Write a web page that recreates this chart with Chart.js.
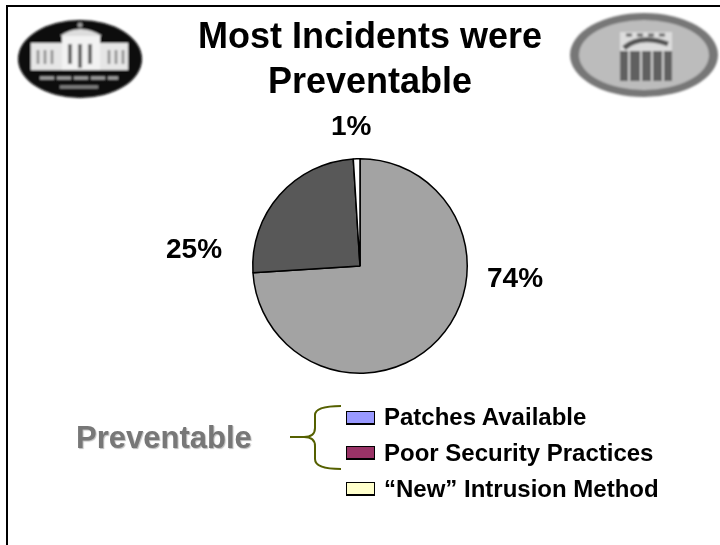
<!DOCTYPE html>
<html>
<head>
<meta charset="utf-8">
<script src="https://cdn.jsdelivr.net/npm/chart.js@4"></script>
<style>
html, body { margin: 0; padding: 0; background: #fff; }
body { width: 720px; height: 545px; position: relative; overflow: hidden; font-family: "Liberation Sans", Arial, sans-serif; font-weight: bold; color: #000; }
#frame { position: absolute; left: 6px; top: 5px; width: 720px; height: 545px; border-left: 2px solid #000; border-top: 2px solid #000; }
#pie { position: absolute; left: 0; top: 0; }
#title { position: absolute; left: 160px; width: 420px; top: 13px; text-align: center; font-size: 36px; line-height: 45px; white-space: nowrap; }
.pct { position: absolute; font-size: 28px; line-height: 32px; }
#prev { position: absolute; left: 76px; top: 420px; font-size: 31px; line-height: 36px; color: #777; text-shadow: 1px 1px 1px #bbb; }
.swatch { position: absolute; left: 346px; width: 27px; height: 11px; border: 1px solid #000; box-shadow: 0 1px 0 #000; }
.leg { position: absolute; left: 384px; font-size: 24px; line-height: 28px; white-space: nowrap; }
svg { position: absolute; left: 0; top: 0; }
</style>
</head>
<body>
<div id="frame"></div>
<canvas id="pie" width="720" height="545"></canvas>
<svg width="720" height="545">
  <defs>
    <filter id="soft"><feGaussianBlur stdDeviation="1.2"/></filter>
  </defs>
  <!-- left seal -->
  <g filter="url(#soft)">
    <ellipse cx="80" cy="59" rx="62" ry="39" fill="#080808"/>
    <circle cx="80" cy="25" r="2.5" fill="#999"/>
    <rect x="31" y="43" width="97" height="27" fill="#e6e6e6"/>
    <rect x="62" y="35" width="38" height="35" fill="#f2f2f2"/>
    <path d="M60 36 Q80 22 102 36 Z" fill="#ddd"/>
    <path d="M38 50v14M45 50v14M52 50v14M109 50v14M116 50v14M123 50v14" stroke="#888" stroke-width="2.5"/>
    <path d="M70 44v20M80 44v24M90 44v20" stroke="#666" stroke-width="4"/>
    <path d="M40 78H118" stroke="#aaa" stroke-width="3" stroke-dasharray="14 3"/>
    <path d="M60 87H98" stroke="#888" stroke-width="3"/>
  </g>
  <!-- right seal -->
  <g filter="url(#soft)">
    <ellipse cx="644" cy="55" rx="74" ry="42" fill="#777"/>
    <ellipse cx="644" cy="55" rx="65" ry="35" fill="#bcbcbc"/>
    <rect x="620" y="32" width="52" height="20" fill="#ddd"/>
    <path d="M624 48 Q640 34 668 44" stroke="#555" stroke-width="5" fill="none"/>
    <path d="M626 35H666" stroke="#666" stroke-width="3" stroke-dasharray="6 5"/>
    <rect x="620" y="51" width="52" height="30" fill="#606060"/>
    <path d="M629 51v30M641 51v30M652 51v30M663 51v30" stroke="#ccc" stroke-width="2"/>
  </g>
  <!-- brace -->
  <path d="M290 437 H304 Q315 437 315 428 V415 Q315 406 341 406 M304 437 Q315 437 315 446 V459 Q315 469 341 469" fill="none" stroke="#556000" stroke-width="2"/>
</svg>
<div id="title"></div>
<div id="prev"></div>
<script>
// values
var categories = ['Patches Available', 'Poor Security Practices', '\u201cNew\u201d Intrusion Method'];
var shares = [74, 25, 1];
var pieColors = ['#a3a3a3', '#585858', '#ffffff'];
var legendColors = ['#9999ff', '#993366', '#ffffcc'];
var titleLines = ['Most Incidents were', 'Preventable'];
var groupLabel = 'Preventable';

// where the hand placed labels sit on the slide
var pctPos = [[487, 262], [166, 233], [331, 110]];
var legendTop = [403, 439, 475];
var swatchTop = [411, 446, 482];

document.getElementById('title').innerHTML = titleLines.join('<br>');
document.getElementById('prev').textContent = groupLabel;

shares.forEach(function(v, i) {
    var d = document.createElement('div');
    d.className = 'pct';
    d.style.left = pctPos[i][0] + 'px';
    d.style.top = pctPos[i][1] + 'px';
    d.textContent = v + '%';
    document.body.appendChild(d);

    var s = document.createElement('div');
    s.className = 'swatch';
    s.style.top = swatchTop[i] + 'px';
    s.style.background = legendColors[i];
    document.body.appendChild(s);

    var l = document.createElement('div');
    l.className = 'leg';
    l.style.top = legendTop[i] + 'px';
    l.textContent = categories[i];
    document.body.appendChild(l);
});

var ctx = document.getElementById('pie').getContext('2d');
new Chart(ctx, {
    type: 'pie',
    data: {
        labels: categories,
        datasets: [{
            data: shares,
            backgroundColor: pieColors,
            borderColor: '#000',
            borderWidth: 1.5,
            borderAlign: 'center'
        }]
    },
    options: {
        responsive: false,
        animation: false,
        layout: { padding: { left: 252, right: 252, top: 158, bottom: 171 } },
        plugins: {
            legend: { display: false },
            tooltip: { enabled: false }
        }
    }
});
</script>
</body>
</html>
